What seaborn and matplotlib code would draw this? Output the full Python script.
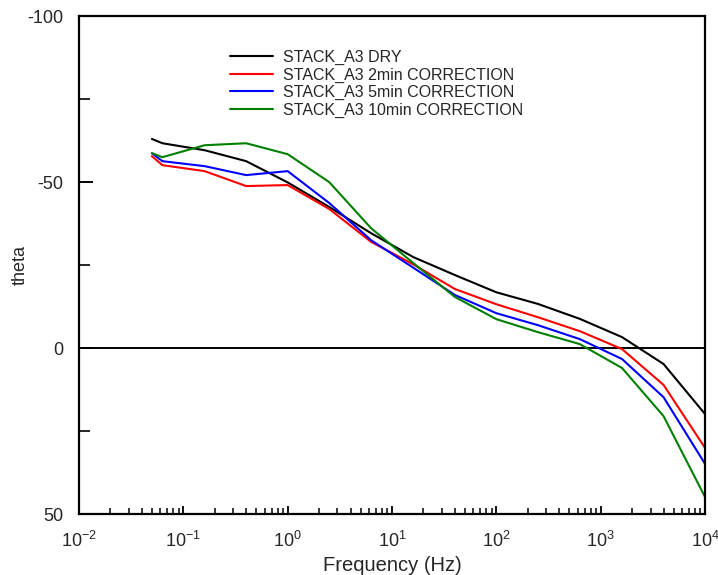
import numpy as np
import pandas as pd
import matplotlib
matplotlib.use("Agg")
import matplotlib.pyplot as plt
import matplotlib.ticker as mticker
import seaborn as sns

# Measured frequencies (Hz)
freq = [0.05, 0.063, 0.16, 0.4, 1.0, 2.5, 6.3, 16, 40, 100, 250, 630, 1600, 4000, 10000]

# Phase angle for each sample
theta_dry = [-63.0, -61.7, -59.6, -56.3, -49.9, -42.5, -34.6, -27.4, -22.0, -16.8, -13.3, -8.8, -3.3, 4.8, 19.9]
theta_2min = [-57.8, -55.1, -53.3, -48.8, -49.1, -41.9, -32.0, -25.2, -17.8, -13.2, -9.3, -5.1, 0.3, 11.1, 30.1]
theta_5min = [-58.7, -56.3, -54.8, -52.1, -53.3, -43.7, -32.5, -24.2, -16.0, -10.5, -6.9, -2.7, 3.3, 14.8, 34.9]
theta_10min = [-58.7, -57.5, -61.1, -61.7, -58.4, -50.0, -36.1, -25.6, -15.4, -8.7, -4.8, -1.2, 6.0, 20.5, 44.9]

series_names = [
    "STACK_A3 DRY",
    "STACK_A3 2min CORRECTION",
    "STACK_A3 5min CORRECTION",
    "STACK_A3 10min CORRECTION",
]
series_values = [theta_dry, theta_2min, theta_5min, theta_10min]
series_colors = ["#000000", "#ff0000", "#0000ff", "#008000"]

# Axis ticks
x_major_ticks = [1e-2, 1e-1, 1e0, 1e1, 1e2, 1e3, 1e4]
x_tick_labels = [r"$10^{-2}$", r"$10^{-1}$", r"$10^{0}$", r"$10^{1}$",
                 r"$10^{2}$", r"$10^{3}$", r"$10^{4}$"]
y_major_ticks = [-100, -50, 0, 50]
y_minor_ticks = [-75, -25, 25]

df = pd.concat(
    [pd.DataFrame({"Frequency": freq, "theta": vals, "sample": name})
     for name, vals in zip(series_names, series_values)],
    ignore_index=True,
)

sns.set_theme(style="ticks")
plt.rcParams["font.family"] = ["Liberation Sans", "DejaVu Sans"]
plt.rcParams["mathtext.fontset"] = "custom"
plt.rcParams["mathtext.rm"] = "Liberation Sans"
plt.rcParams["mathtext.it"] = "Liberation Sans"

fig = plt.figure(figsize=(7.18, 5.75), dpi=100)
ax = fig.add_axes([0.110, 0.106, 0.872, 0.866])

sns.lineplot(
    data=df, x="Frequency", y="theta", hue="sample",
    palette=dict(zip(series_names, series_colors)),
    hue_order=series_names, linewidth=1.5, ax=ax, sort=False,
)

ax.axhline(0, color="black", linewidth=1.4, zorder=1)

ax.set_xscale("log")
ax.set_xlim(1e-2, 1e4)
ax.set_ylim(50, -100)

# x minor ticks at 2..9 within each decade
x_minor_ticks = [m * d for d in x_major_ticks[:-1] for m in range(2, 10)]
ax.xaxis.set_major_locator(mticker.FixedLocator(x_major_ticks))
ax.xaxis.set_major_formatter(mticker.FixedFormatter(x_tick_labels))
ax.xaxis.set_minor_locator(mticker.FixedLocator(x_minor_ticks))
ax.xaxis.set_minor_formatter(mticker.NullFormatter())
ax.yaxis.set_major_locator(mticker.FixedLocator(y_major_ticks))
ax.yaxis.set_major_formatter(mticker.FixedFormatter([str(v) for v in y_major_ticks]))
ax.yaxis.set_minor_locator(mticker.FixedLocator(y_minor_ticks))

ax.tick_params(which="both", direction="in", top=False, right=False, color="black")
ax.tick_params(axis="y", which="major", length=10, width=1.4, labelsize=13, pad=11)
ax.tick_params(axis="y", which="minor", length=8, width=1.2)
ax.tick_params(axis="x", which="major", length=6, width=1.3, labelsize=13, pad=12)
ax.tick_params(axis="x", which="minor", length=4, width=1.1)

for s in ax.spines.values():
    s.set_linewidth(1.6)
    s.set_color("black")

ax.set_xlabel("Frequency (Hz)", fontsize=14.5, labelpad=4)
ax.set_ylabel("theta", fontsize=13, labelpad=-1)

leg = ax.legend(
    loc="upper left", bbox_to_anchor=(0.241, 0.932), frameon=False,
    fontsize=11.5, handlelength=2.7, handletextpad=0.6, labelspacing=0.15,
    borderaxespad=0, borderpad=0,
)

fig.savefig("out.png", dpi=100)
